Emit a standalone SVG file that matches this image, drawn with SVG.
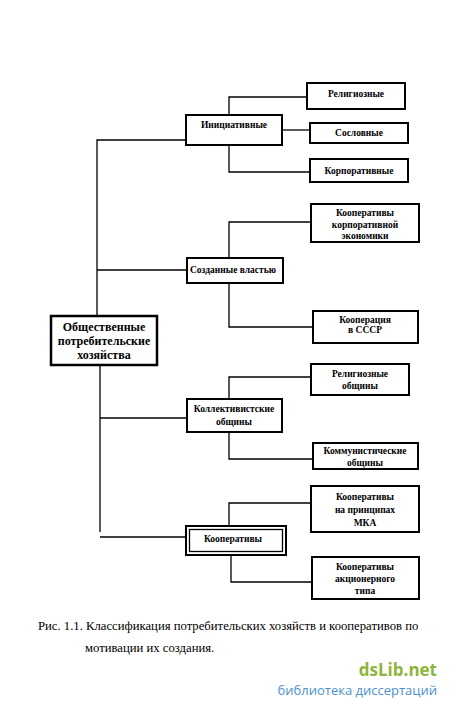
<svg xmlns="http://www.w3.org/2000/svg" width="450" height="708" viewBox="0 0 450 708">
<style>
.box{fill:#fff;stroke:#000;stroke-width:2}
.main{fill:#fff;stroke:#000;stroke-width:2.5}
.t{font-family:"Liberation Serif","Times New Roman",serif;font-weight:bold;font-size:9.5px;text-anchor:middle;fill:#000}
.tm{font-family:"Liberation Serif","Times New Roman",serif;font-weight:bold;font-size:12px;text-anchor:middle;fill:#000}
.cap{font-family:"Liberation Serif","Times New Roman",serif;font-size:12.7px;fill:#000}
.con{fill:none;stroke:#000;stroke-width:1.3}
</style>
<rect width="450" height="708" fill="#fff"/>
<g id="connectors" class="con">
<path d="M97,316V140H186"/>
<path d="M97,270H187"/>
<path d="M100,365V532"/>
<path d="M100,418H187"/>
<path d="M100,537H186"/>
<path d="M229,115V97H307"/>
<path d="M282,130H310"/>
<path d="M229,145V172H310"/>
<path d="M229,258V222H311"/>
<path d="M229,283V327H313"/>
<path d="M229,399V377H311"/>
<path d="M229,432V459H313"/>
<path d="M229,526V503H311"/>
<path d="M231,555V582H312"/>
</g>
<g id="main">
<rect class="main" x="51" y="316" width="106" height="49"/>
<text class="tm" x="104" y="331">Общественные</text>
<text class="tm" x="104" y="345">потребительские</text>
<text class="tm" x="104" y="359">хозяйства</text>
</g>
<g id="initiative">
<rect class="box" x="186" y="115" width="96" height="30"/>
<text class="t" x="234" y="128">Инициативные</text>
</g>
<g id="religious">
<rect class="box" x="307" y="83" width="98" height="26"/>
<text class="t" x="356" y="97">Религиозные</text>
</g>
<g id="estate">
<rect class="box" x="310" y="123" width="98" height="20"/>
<text class="t" x="359" y="136">Сословные</text>
</g>
<g id="corporate">
<rect class="box" x="310" y="159" width="98" height="23"/>
<text class="t" x="359" y="174">Корпоративные</text>
</g>
<g id="state">
<rect class="box" x="187" y="258" width="96" height="25"/>
<text class="t" x="233" y="273">Созданные властью</text>
</g>
<g id="corp-econ">
<rect class="box" x="311" y="204" width="108" height="38"/>
<text class="t" x="365" y="216">Кооперативы</text>
<text class="t" x="365" y="227.5">корпоративной</text>
<text class="t" x="365" y="239">экономики</text>
</g>
<g id="ussr">
<rect class="box" x="313" y="311" width="105" height="32"/>
<text class="t" x="365" y="322.5">Кооперация</text>
<text class="t" x="365" y="333">в СССР</text>
</g>
<g id="collectivist">
<rect class="box" x="187" y="399" width="95" height="33"/>
<text class="t" x="234" y="412">Коллективистские</text>
<text class="t" x="234" y="425">общины</text>
</g>
<g id="rel-comm">
<rect class="box" x="311" y="364" width="98" height="31"/>
<text class="t" x="360" y="377">Религиозные</text>
<text class="t" x="360" y="388.5">общины</text>
</g>
<g id="communist">
<rect class="box" x="313" y="443" width="105" height="26"/>
<text class="t" x="365" y="454">Коммунистические</text>
<text class="t" x="365" y="466">общины</text>
</g>
<g id="coops">
<rect class="box" x="186" y="526" width="100" height="29"/>
<rect fill="none" stroke="#000" stroke-width="1.3" x="189.5" y="529.5" width="93" height="22"/>
<text class="t" x="233" y="542">Кооперативы</text>
</g>
<g id="ica">
<rect class="box" x="311" y="486" width="108" height="46"/>
<text class="t" x="365" y="500">Кооперативы</text>
<text class="t" x="365" y="512.5">на принципах</text>
<text class="t" x="365" y="525.5">МКА</text>
</g>
<g id="joint-stock">
<rect class="box" x="312" y="557" width="107" height="42"/>
<text class="t" x="365" y="569.5">Кооперативы</text>
<text class="t" x="365" y="581.5">акционерного</text>
<text class="t" x="365" y="593.5">типа</text>
</g>
<g id="caption">
<text class="cap" x="38" y="629.5">Рис. 1.1. Классификация потребительских хозяйств и кооперативов по</text>
<text class="cap" x="85" y="652">мотивации их создания.</text>
</g>
<g id="watermark" font-family="'Open Sans','DejaVu Sans',sans-serif">
<text x="437" y="676" text-anchor="end" font-size="17" font-weight="bold" fill="#8db53c">dsLib.net</text>
<text x="437" y="695" text-anchor="end" font-size="13" fill="#4a92cc">библиотека диссертаций</text>
</g>
</svg>
